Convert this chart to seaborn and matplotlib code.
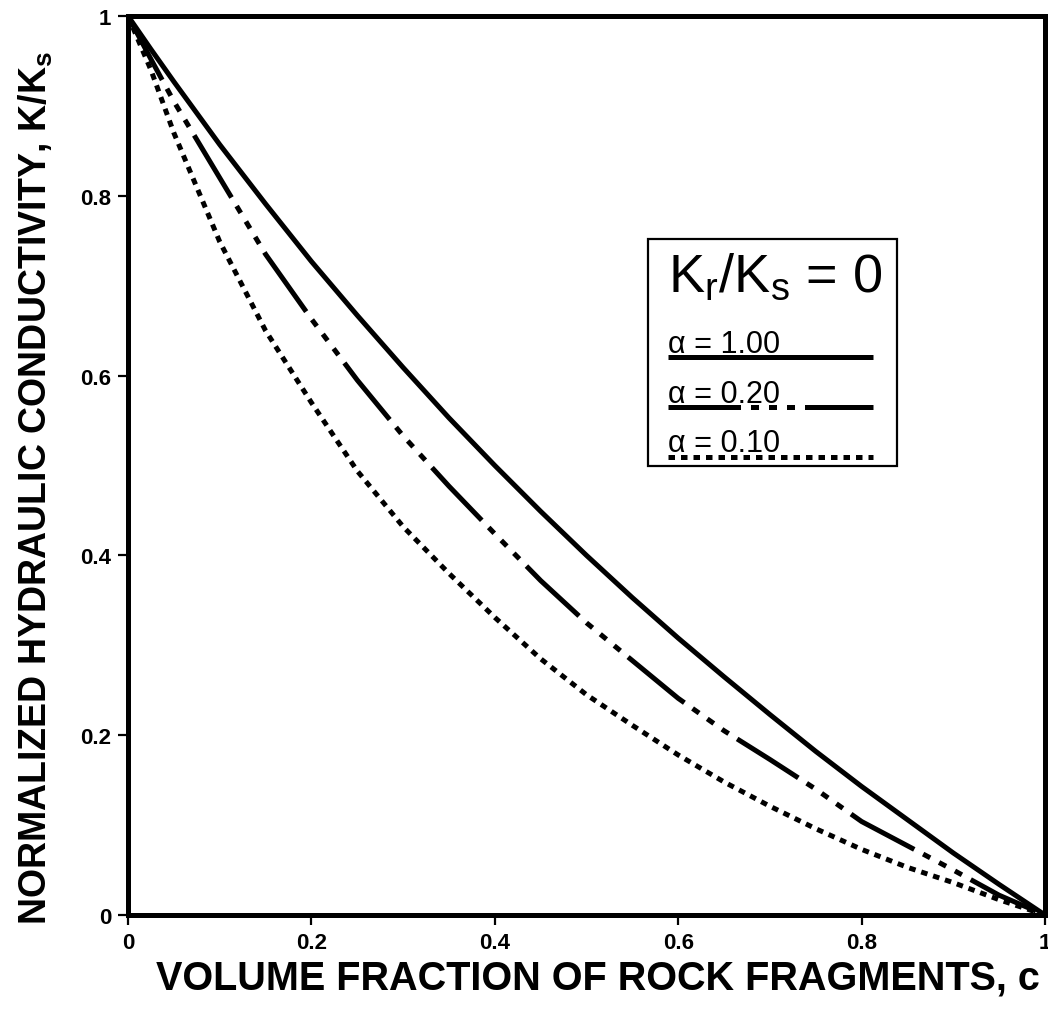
import numpy as np
import pandas as pd
import matplotlib
matplotlib.use("Agg")
import matplotlib.pyplot as plt
from matplotlib.lines import Line2D
from matplotlib.patches import Rectangle
import seaborn as sns

# ---- data ----
c_vals = [0.0, 0.025, 0.05, 0.1, 0.15, 0.2, 0.25, 0.3, 0.35, 0.4, 0.45, 0.5,
          0.55, 0.6, 0.65, 0.7, 0.75, 0.8, 0.85, 0.9, 0.95, 1.0]
k_alpha_100 = [1.0, 0.963, 0.927, 0.857, 0.791, 0.727, 0.667, 0.609, 0.553, 0.500,
               0.449, 0.400, 0.353, 0.308, 0.265, 0.223, 0.182, 0.143, 0.106,
               0.069, 0.034, 0.0]
k_alpha_020 = [1.0, 0.952, 0.905, 0.820, 0.735, 0.663, 0.595, 0.533, 0.477, 0.424,
               0.372, 0.325, 0.283, 0.241, 0.205, 0.173, 0.140, 0.104, 0.077,
               0.050, 0.022, 0.0]
k_alpha_010 = [1.0, 0.940, 0.870, 0.749, 0.650, 0.570, 0.494, 0.432, 0.380, 0.331,
               0.285, 0.245, 0.211, 0.178, 0.148, 0.121, 0.096, 0.073, 0.053,
               0.036, 0.017, 0.0]
series_names = ["α = 1.00", "α = 0.20", "α = 0.10"]
x_ticks = [0, 0.2, 0.4, 0.6, 0.8, 1]
x_tick_labels = ["0", "0.2", "0.4", "0.6", "0.8", "1"]
y_ticks = [0, 0.2, 0.4, 0.6, 0.8, 1]
y_tick_labels = ["0", "0.2", "0.4", "0.6", "0.8", "1"]
legend_title = r"K$_\mathregular{r}$/K$_\mathregular{s}$ = 0"
x_label = "VOLUME FRACTION OF ROCK FRAGMENTS, c"
y_label = r"NORMALIZED HYDRAULIC CONDUCTIVITY, K/K$_\mathregular{s}$"

df = pd.DataFrame({
    "c": c_vals * 3,
    "K": k_alpha_100 + k_alpha_020 + k_alpha_010,
    "series": sum([[n] * len(c_vals) for n in series_names], []),
})

sns.set_theme(style="ticks")
plt.rcParams["font.family"] = ["Liberation Sans", "DejaVu Sans"]
plt.rcParams["mathtext.fontset"] = "custom"
plt.rcParams["mathtext.rm"] = "Liberation Sans"
plt.rcParams["mathtext.it"] = "Liberation Sans:italic"
plt.rcParams["mathtext.bf"] = "Liberation Sans:bold"
plt.rcParams["text.color"] = "black"
plt.rcParams["axes.labelcolor"] = "black"
plt.rcParams["xtick.color"] = "black"
plt.rcParams["ytick.color"] = "black"
plt.rcParams["xtick.labelcolor"] = "black"
plt.rcParams["ytick.labelcolor"] = "black"

LW = 3.6
dash_styles = {
    "α = 1.00": "",
    "α = 0.20": (14.5, 2.0, 1.6, 2.0, 1.6, 2.0, 1.6, 2.0),
    "α = 0.10": (1.3, 1.2),
}

fig = plt.figure(figsize=(10.48, 10.20), dpi=100)
ax = fig.add_axes([128 / 1048, 1 - 916 / 1020, (1045 - 128) / 1048, (916 - 17) / 1020])

sns.lineplot(data=df, x="c", y="K", style="series", dashes=dash_styles,
             color="black", linewidth=LW, legend=False, ax=ax, sort=False)
for ln in ax.lines:
    ln.set_dash_capstyle("butt")
    ln.set_solid_capstyle("butt")

ax.set_xlim(0, 1)
ax.set_ylim(0, 1)
ax.set_xticks(x_ticks)
ax.set_xticklabels(x_tick_labels)
ax.set_yticks(y_ticks)
ax.set_yticklabels(y_tick_labels)
for sp in ax.spines.values():
    sp.set_visible(True)
    sp.set_linewidth(3.6)
    sp.set_color("black")
ax.tick_params(direction="out", length=7, width=1.6, color="black",
               labelcolor="black", labelsize=16, pad=5)
for lab in ax.get_xticklabels() + ax.get_yticklabels():
    lab.set_fontweight("bold")

ax.set_xlabel(x_label, fontsize=28.5, fontweight="bold", labelpad=4, color="black")
ax.set_ylabel(y_label, fontsize=27, fontweight="bold", labelpad=18, color="black")
ax.xaxis.label.set_x(0.512)
ax.yaxis.label.set_y(0.476)

# ---- custom legend box ----
def fx(px):
    return (px - 128) / 917

def fy(py):
    return (916 - py) / 899

ax.add_patch(Rectangle((fx(648), fy(467)), fx(897) - fx(648), fy(240) - fy(467),
                       transform=ax.transAxes, fill=True, facecolor="white",
                       edgecolor="black", linewidth=1.6, zorder=5))
ax.text(fx(668), fy(292), legend_title, transform=ax.transAxes, fontsize=39,
        va="baseline", ha="left", zorder=6, color="black")
text_base = [353, 403, 452]
line_pos = [358, 408, 458]
for name, tb, lp in zip(series_names, text_base, line_pos):
    ax.text(fx(668), fy(tb), name, transform=ax.transAxes, fontsize=22,
            va="baseline", ha="left", zorder=6, color="black")
    d = dash_styles[name]
    ln = Line2D([fx(668), fx(873)], [fy(lp), fy(lp)], transform=ax.transAxes,
                color="black", linewidth=LW, zorder=6,
                solid_capstyle="butt", dash_capstyle="butt")
    if d:
        ln.set_dashes(d)
    ax.add_line(ln)

fig.savefig("out.png", dpi=100)
